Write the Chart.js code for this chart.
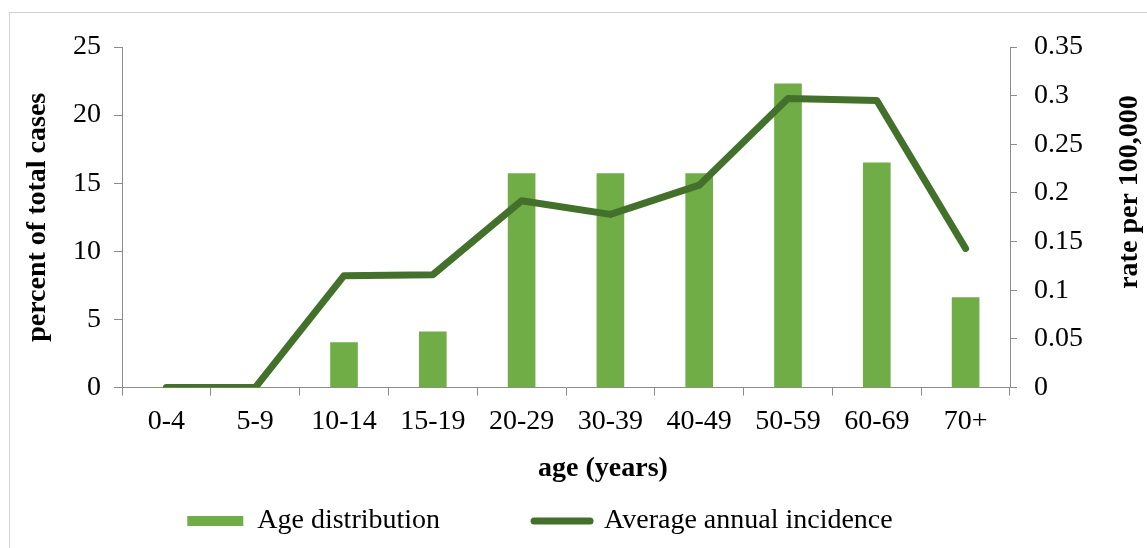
<!DOCTYPE html>
<html>
<head>
<meta charset="utf-8">
<script src="https://cdn.jsdelivr.net/npm/chart.js@4.4.1/dist/chart.umd.min.js"></script>
<style>
html,body{margin:0;padding:0;background:#fff;overflow:hidden;}
#wrap{position:relative;width:1147px;height:548px;overflow:hidden;}
#frame{position:absolute;left:9px;top:12px;width:1200px;height:600px;border-left:1px solid #d2d2d2;border-top:1px solid #d2d2d2;}
canvas{position:absolute;left:0;top:0;}
</style>
</head>
<body>
<div id="wrap"><div id="frame"></div><canvas id="c" width="1147" height="548"></canvas></div>
<script>
// ---- data ----
const categories = ['0-4','5-9','10-14','15-19','20-29','30-39','40-49','50-59','60-69','70+'];
const ageDistribution = [0, 0, 3.3, 4.1, 15.7, 15.7, 15.7, 22.3, 16.5, 6.6];
const annualIncidence = [0, 0, 0.115, 0.116, 0.192, 0.178, 0.208, 0.297, 0.295, 0.143];
const leftTickLabels = ['0','5','10','15','20','25'];
const rightTickLabels = ['0','0.05','0.1','0.15','0.2','0.25','0.3','0.35'];
const seriesNames = ['Age distribution', 'Average annual incidence'];
const xTitle = 'age (years)';
const leftTitle = 'percent of total cases';
const rightTitle = 'rate per 100,000';

// ---- styles ----
const FONT = 'Liberation Serif';
const barColor = '#70AD47';
const lineColor = '#43712B';
const axisColor = '#8c8c8c';

Chart.defaults.font.family = FONT;
Chart.defaults.font.size = 28;
Chart.defaults.color = '#000';

const titlePlugin = {
  id: 'customTitles',
  afterDraw(chart) {
    const ctx = chart.ctx;
    const xs = chart.scales.x, y1 = chart.scales.y1, area = chart.chartArea;
    ctx.save();
    ctx.font = 'bold 28px "' + FONT + '"';
    ctx.fillStyle = '#000';
    ctx.textAlign = 'center';
    ctx.textBaseline = 'middle';
    ctx.fillText(xTitle, (xs.left + xs.right) / 2 + 37, xs.bottom - 28);
    ctx.translate(y1.right - 17, area.top + 145);
    ctx.rotate(-Math.PI / 2);
    ctx.fillText(rightTitle, 0, 0);
    ctx.restore();
  }
};

new Chart(document.getElementById('c'), {
  data: {
    labels: categories,
    datasets: [
      {
        type: 'bar',
        label: seriesNames[0],
        data: ageDistribution,
        backgroundColor: barColor,
        borderWidth: 0,
        barThickness: 27,
        pointStyle: 'rect',
        yAxisID: 'y',
        order: 2
      },
      {
        type: 'line',
        label: seriesNames[1],
        data: annualIncidence,
        borderColor: lineColor,
        backgroundColor: lineColor,
        borderWidth: 7,
        borderCapStyle: 'round',
        borderJoinStyle: 'round',
        pointRadius: 0,
        pointHoverRadius: 0,
        pointStyle: 'line',
        tension: 0,
        fill: false,
        yAxisID: 'y1',
        order: 1
      }
    ]
  },
  options: {
    responsive: false,
    animation: false,
    devicePixelRatio: 1,
    layout: { padding: { left: 10, right: 0, top: 47, bottom: 3 } },
    plugins: {
      tooltip: { enabled: false },
      legend: {
        position: 'bottom',
        labels: {
          usePointStyle: true,
          pointStyleWidth: 56,
          boxHeight: 10,
          padding: 10,
          color: '#000',
          font: { family: FONT, size: 28 },
          sort: (a, b) => a.datasetIndex - b.datasetIndex,
          generateLabels(chart) {
            const items = Chart.defaults.plugins.legend.labels.generateLabels(chart);
            items.forEach(it => {
              if (it.datasetIndex === 0) {
                it.text = seriesNames[0] + ' '.repeat(12);
                it.lineWidth = 0;
                it.fillStyle = barColor;
                it.pointStyle = 'rect';
              } else {
                it.text = seriesNames[1] + ' '.repeat(11);
                it.lineWidth = 7;
                it.lineCap = 'round';
                it.strokeStyle = lineColor;
                it.pointStyle = 'line';
              }
            });
            return items;
          }
        }
      }
    },
    scales: {
      x: {
        type: 'category',
        offset: true,
        grid: { offset: true, drawOnChartArea: false, drawTicks: true, tickLength: 8, color: axisColor },
        border: { display: true, color: axisColor },
        ticks: { padding: 9, color: '#000', font: { family: FONT, size: 28 }, maxRotation: 0, autoSkip: false },
        afterFit(scale) { scale.height = 109.4; }
      },
      y: {
        type: 'linear',
        position: 'left',
        min: 0, max: 25,
        ticks: { stepSize: 5, padding: 13, color: '#000', font: { family: FONT, size: 28 },
                 callback: (v, i) => leftTickLabels[i] },
        grid: { drawOnChartArea: false, drawTicks: true, tickLength: 8, color: axisColor },
        border: { display: true, color: axisColor },
        title: { display: true, text: leftTitle, color: '#000', font: { family: FONT, size: 28, weight: 'bold' }, padding: { top: 11, bottom: 0 } },
        afterFit(scale) { scale.width = 112; }
      },
      y1: {
        type: 'linear',
        position: 'right',
        min: 0, max: 0.35,
        ticks: { stepSize: 0.05, padding: 17, color: '#000', font: { family: FONT, size: 28 },
                 callback: (v, i) => rightTickLabels[i] },
        grid: { drawOnChartArea: false, drawTicks: true, tickLength: 7, color: axisColor },
        border: { display: true, color: axisColor },
        afterFit(scale) { scale.width = 137; }
      }
    }
  },
  plugins: [titlePlugin]
});
</script>
</body>
</html>
